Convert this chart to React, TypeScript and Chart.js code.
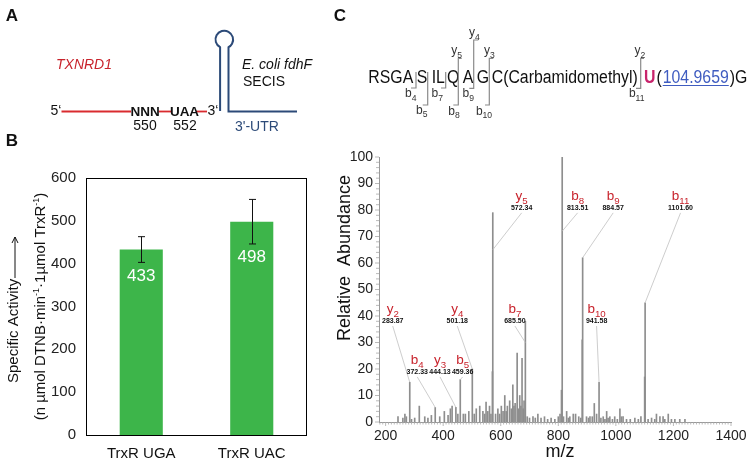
import React, { useEffect, useRef } from 'react';
import { Chart, registerables } from 'chart.js';

Chart.register(...registerables);

const FONT = '"Liberation Sans", Arial, Helvetica, sans-serif';

// ---------- Panel B data ----------
const ACTIVITY_CATEGORIES = ['TrxR UGA', 'TrxR UAC'];
const ACTIVITY_VALUES = [433, 498];
const ACTIVITY_ERRORS = [30, 52];
const ACTIVITY_TICKS = [0, 100, 200, 300, 400, 500, 600];

// ---------- Panel C spectrum data ----------
const PEAK_MZ = [
  243, 260, 267, 272, 283.87, 290, 301, 317, 336, 347, 359, 372.33, 388, 404, 417, 425, 431, 444.13, 451,
  459.36, 470, 477, 489, 501.18, 508, 515, 527, 538, 544, 549, 555, 561, 566, 571, 572.34, 582, 590, 596,
  602, 608, 614, 619, 623, 631, 637, 642, 646, 650, 657, 662, 666, 670, 674, 678, 681, 685.5, 692, 700,
  712, 720, 729, 740, 752, 763, 775, 788, 800, 806, 811, 813.51, 818, 829, 835, 840, 852, 860, 871, 878,
  883, 884.57, 898, 905, 910, 918, 925, 933, 941.58, 948, 956, 962, 968, 973, 979, 988, 996, 1005, 1014,
  1019, 1025, 1037, 1050, 1066, 1078, 1087, 1100, 1101.6, 1112, 1124, 1135, 1141, 1153, 1164, 1170, 1182,
  1193, 1205, 1222, 1240,
];
const PEAK_INTENSITY = [
  2, 1.5, 3, 2, 15, 1, 1.5, 6, 2, 1.5, 2.5, 5.5, 2, 4, 2.5, 5, 6, 5.5, 3,
  16, 3, 3, 4, 20, 3, 5, 6, 4, 3, 7.5, 4, 6, 3, 19, 79, 3, 5, 3,
  6, 4, 10, 4, 6, 8, 5, 14, 6, 7, 26, 5, 10, 6, 24, 5, 8, 38, 2, 1.5,
  2, 1.5, 3, 1.5, 2, 1, 1.5, 1, 2, 3, 12, 100, 2, 4, 1.5, 2, 3, 3, 2, 1.5,
  31, 62, 2, 1.5, 2, 2, 7, 3, 15, 1.5, 2, 1, 4, 1.5, 2, 1, 2, 1, 5,
  2, 2, 1, 1, 1.5, 1, 2, 17, 45, 1, 1.5, 1, 3, 2, 2, 1, 3,
  1, 1, 1, 1,
];
const MZ_TICKS = [200, 400, 600, 800, 1000, 1200, 1400];
const ABUNDANCE_TICKS = [0, 10, 20, 30, 40, 50, 60, 70, 80, 90, 100];

// annotated fragment ions
const ION_TYPES = ['y', 'b', 'y', 'b', 'y', 'b', 'y', 'b', 'b', 'b', 'b'];
const ION_NUMBERS = ['2', '4', '3', '5', '4', '7', '5', '8', '9', '10', '11'];
const ION_MZ = [283.87, 372.33, 444.13, 459.36, 501.18, 685.5, 572.34, 813.51, 884.57, 941.58, 1101.6];
const ION_MZ_TEXT = ['283.87', '372.33', '444.13', '459.36', '501.18', '685.50', '572.34', '813.51', '884.57', '941.58', '1101.60'];
// label anchors (data units) and where each connector meets its peak
const ION_LABEL_MZ = [224.7, 310, 389, 467.7, 449, 649.3, 672.6, 867, 990.6, 933, 1224.7];
const ION_LABEL_INTENSITY = [38.1, 18.9, 18.9, 18.9, 38.1, 38.1, 80.8, 80.8, 80.8, 38.1, 80.8];
const ION_HIT_INTENSITY = [15, 5.5, 5.5, 16, 20, 30, 65, 72, 62, 15, 45];

// peptide
const PEPTIDE_PARTS = ['RSGA', 'S', 'IL', 'Q', 'A', 'G', 'C(Carbamidomethyl)'];
const SEC_RESIDUE = 'U';
const SEC_MASS = '104.9659';

const RED = '#c8232c';
const BLUE = '#2c4a78';

function text(ctx: CanvasRenderingContext2D, s: string, x: number, y: number, font: string, color: string,
  align: CanvasTextAlign = 'left', baseline: CanvasTextBaseline = 'middle', sx = 1) {
  ctx.save();
  ctx.font = font;
  ctx.fillStyle = color;
  ctx.textAlign = align;
  ctx.textBaseline = baseline;
  ctx.translate(x, y);
  ctx.scale(sx, 1);
  ctx.fillText(s, 0, 0);
  ctx.restore();
}

function line(ctx: CanvasRenderingContext2D, pts: number[][], color: string, w: number) {
  ctx.save();
  ctx.strokeStyle = color;
  ctx.lineWidth = w;
  ctx.beginPath();
  pts.forEach((p, i) => (i ? ctx.lineTo(p[0], p[1]) : ctx.moveTo(p[0], p[1])));
  ctx.stroke();
  ctx.restore();
}

function subLabel(ctx: CanvasRenderingContext2D, main: string, sub: string, cx: number, cy: number, size: number, color: string) {
  const mf = `${size}px ${FONT}`;
  const sf = `${(size * 0.72).toFixed(1)}px ${FONT}`;
  ctx.save();
  ctx.font = mf;
  const w1 = ctx.measureText(main).width;
  ctx.font = sf;
  const w2 = ctx.measureText(sub).width;
  const x0 = cx - (w1 + w2) / 2;
  ctx.fillStyle = color;
  ctx.textAlign = 'left';
  ctx.textBaseline = 'alphabetic';
  ctx.font = mf;
  ctx.fillText(main, x0, cy + size * 0.35);
  ctx.font = sf;
  ctx.fillText(sub, x0 + w1, cy + size * 0.35 + size * 0.3);
  ctx.restore();
}

// ---------- Panel A + B decorations ----------
const leftPlugin = {
  id: 'leftDeco',
  afterDraw(chart: any) {
    const ctx: CanvasRenderingContext2D = chart.ctx;
    const xs = chart.scales.x;
    const ys = chart.scales.y;
    const a = chart.chartArea;

    // panel letters
    text(ctx, 'A', 12, 16, `bold 17px ${FONT}`, '#111', 'center');
    text(ctx, 'B', 12, 141, `bold 17px ${FONT}`, '#111', 'center');

    // ---- Panel A schematic ----
    text(ctx, 'TXNRD1', 84, 65, `italic 14px ${FONT}`, RED, 'center');
    text(ctx, '5\u2018', 56, 111, `14px ${FONT}`, '#111', 'center');
    line(ctx, [[61.5, 111.5], [131, 111.5]], '#d92b2f', 1.8);
    line(ctx, [[158.5, 111.5], [171, 111.5]], '#d92b2f', 1.8);
    line(ctx, [[196, 111.5], [207, 111.5]], '#d92b2f', 1.8);
    text(ctx, 'NNN', 145.2, 112, `bold 13.5px ${FONT}`, '#111', 'center');
    text(ctx, 'UAA', 184.5, 112, `bold 13.5px ${FONT}`, '#111', 'center');
    text(ctx, '3\u2018', 213, 111, `14px ${FONT}`, '#111', 'center');
    text(ctx, '550', 145, 126, `14px ${FONT}`, '#111', 'center');
    text(ctx, '552', 185, 126, `14px ${FONT}`, '#111', 'center');
    // hairpin
    const cx = 224.3, cy = 39.5, r = 8.8;
    const dx = 4.2, dy = Math.sqrt(r * r - dx * dx);
    ctx.save();
    ctx.strokeStyle = BLUE;
    ctx.lineWidth = 2;
    ctx.beginPath();
    ctx.moveTo(cx - dx, 111);
    ctx.lineTo(cx - dx, cy + dy);
    ctx.arc(cx, cy, r, Math.atan2(dy, -dx), Math.atan2(dy, dx), false);
    ctx.lineTo(cx + dx, 111.5);
    ctx.lineTo(297, 111.5);
    ctx.stroke();
    ctx.restore();
    text(ctx, 'E. coli fdhF', 242, 65, `italic 14px ${FONT}`, '#111', 'left');
    text(ctx, 'SECIS', 243, 82, `14px ${FONT}`, '#111', 'left');
    text(ctx, "3'-UTR", 235, 127, `14px ${FONT}`, BLUE, 'left');

    // ---- Panel B ----
    ctx.save();
    ctx.strokeStyle = '#000';
    ctx.lineWidth = 1;
    ctx.strokeRect(Math.round(a.left) + 0.5, Math.round(a.top) + 0.5, Math.round(a.right - a.left) - 1, Math.round(a.bottom - a.top));
    ctx.restore();

    // error bars + values
    ACTIVITY_VALUES.forEach((v, i) => {
      const x = xs.getPixelForValue(i);
      const yt = ys.getPixelForValue(v + ACTIVITY_ERRORS[i]);
      const yb = ys.getPixelForValue(v - ACTIVITY_ERRORS[i]);
      const xr = Math.round(x) + 0.5;
      line(ctx, [[xr, yt], [xr, yb]], '#111', 1);
      line(ctx, [[xr - 3.5, yt], [xr + 3.5, yt]], '#111', 1);
      line(ctx, [[xr - 3.5, yb], [xr + 3.5, yb]], '#111', 1);
      text(ctx, String(v), x, yb + 13.5, `17px ${FONT}`, '#fff', 'center');
    });

    // y title
    ctx.save();
    ctx.translate(13.5, 383);
    ctx.rotate(-Math.PI / 2);
    ctx.font = `15px ${FONT}`;
    ctx.fillStyle = '#111';
    ctx.textAlign = 'left';
    ctx.textBaseline = 'middle';
    ctx.fillText('Specific Activity', 0, 0);
    ctx.strokeStyle = '#111';
    ctx.lineWidth = 1;
    ctx.beginPath();
    ctx.moveTo(105, 1.5);
    ctx.lineTo(146, 1.5);
    ctx.moveTo(140, -1.5);
    ctx.lineTo(146, 1.5);
    ctx.lineTo(140, 4.5);
    ctx.stroke();
    ctx.restore();

    const parts: [string, boolean][] = [
      ['(n \u00b5mol DTNB\u00b7min', false], ['-1', true], ['\u00b71\u00b5mol TrxR', false], ['-1', true], [')', false],
    ];
    ctx.save();
    ctx.translate(40.5, 306.5);
    ctx.rotate(-Math.PI / 2);
    ctx.fillStyle = '#111';
    ctx.textBaseline = 'middle';
    ctx.textAlign = 'left';
    let total = 0;
    const widths = parts.map(([s, sup]) => {
      ctx.font = sup ? `9px ${FONT}` : `15px ${FONT}`;
      const w = ctx.measureText(s).width;
      total += w;
      return w;
    });
    let px = -total / 2;
    parts.forEach(([s, sup], i) => {
      ctx.font = sup ? `9px ${FONT}` : `15px ${FONT}`;
      ctx.fillText(s, px, sup ? -4 : 0);
      px += widths[i];
    });
    ctx.restore();
  },
};

// ---------- Panel C decorations ----------
const OX = 330;
const specPlugin = {
  id: 'specDeco',
  afterDraw(chart: any) {
    const ctx: CanvasRenderingContext2D = chart.ctx;
    const xs = chart.scales.x;
    const ys = chart.scales.y;
    const a = chart.chartArea;
    const P = (x: number) => x - OX;

    text(ctx, 'C', P(340), 16, `bold 17px ${FONT}`, '#111', 'center');

    // minor ticks
    ctx.save();
    ctx.strokeStyle = '#a8a8a8';
    ctx.lineWidth = 0.8;
    ctx.beginPath();
    for (let v = 0; v <= 100; v += 2) {
      const y = ys.getPixelForValue(v);
      ctx.moveTo(a.left, y);
      ctx.lineTo(a.left - (v % 10 === 0 ? 4 : 3), y);
    }
    for (let v = 180; v <= 1400; v += 10) {
      const x = xs.getPixelForValue(v);
      ctx.moveTo(x, a.bottom);
      ctx.lineTo(x, a.bottom + (v % 200 === 0 ? 4 : 2.5));
    }
    ctx.stroke();
    ctx.restore();

    // axis titles
    ctx.save();
    ctx.translate(P(345), 258);
    ctx.rotate(-Math.PI / 2);
    ctx.font = `18px ${FONT}`;
    ctx.fillStyle = '#111';
    ctx.textAlign = 'center';
    ctx.textBaseline = 'middle';
    ctx.fillText('Relative  Abundance', 0, 0);
    ctx.restore();
    text(ctx, 'm/z', P(560), 452, `18px ${FONT}`, '#111', 'center');

    // ion annotations
    ION_MZ.forEach((mz, i) => {
      const nx = xs.getPixelForValue(ION_LABEL_MZ[i]);
      const ny = ys.getPixelForValue(ION_LABEL_INTENSITY[i]);
      const hx = xs.getPixelForValue(mz);
      const hy = ys.getPixelForValue(ION_HIT_INTENSITY[i]);
      line(ctx, [[nx, ny + 5], [hx, hy]], '#c0c0c0', 0.8);
      subLabel(ctx, ION_TYPES[i], ION_NUMBERS[i], nx, ny - 13, 13.5, RED);
      text(ctx, ION_MZ_TEXT[i], nx, ny, `bold 7px ${FONT}`, '#111', 'center');
    });

    // peptide sequence
    const pf = `18px ${FONT}`;
    const sx = 0.88;
    const base = 83;
    const lefts = [368.3, 416.7, 431.7, 447, 462.7, 476.7, 491.7];
    PEPTIDE_PARTS.forEach((s, i) => text(ctx, s, P(lefts[i]), base, pf, '#111', 'left', 'alphabetic', sx));
    ctx.save();
    let x = P(644);
    text(ctx, SEC_RESIDUE, x, base, `bold 18px ${FONT}`, '#c8246c', 'left', 'alphabetic', sx);
    ctx.font = `bold 18px ${FONT}`;
    x += ctx.measureText(SEC_RESIDUE).width * sx + 1;
    text(ctx, '(', x, base, pf, '#111', 'left', 'alphabetic', sx);
    ctx.font = pf;
    x += ctx.measureText('(').width * sx + 1;
    text(ctx, SEC_MASS, x, base, pf, '#3f5cc0', 'left', 'alphabetic', sx);
    const wm = ctx.measureText(SEC_MASS).width * sx;
    line(ctx, [[x, base + 2.5], [x + wm, base + 2.5]], '#3f5cc0', 1);
    x += wm + 1;
    text(ctx, ')G', x, base, pf, '#111', 'left', 'alphabetic', sx);
    ctx.restore();

    // fragmentation brackets
    const G = '#8a8a8a';
    const bx = (v: number) => P(v);
    line(ctx, [[bx(416), 72], [bx(416), 88], [bx(411), 88]], G, 1.2);
    line(ctx, [[bx(427.7), 72], [bx(427.7), 105], [bx(422.7), 105]], G, 1.2);
    line(ctx, [[bx(445.7), 72], [bx(445.7), 88], [bx(441), 88]], G, 1.2);
    line(ctx, [[bx(461.7), 58.3], [bx(458.3), 58.3], [bx(458.3), 105], [bx(453.3), 105]], G, 1.2);
    line(ctx, [[bx(478.3), 40], [bx(473.7), 40], [bx(473.7), 88.3], [bx(469.3), 88.3]], G, 1.2);
    line(ctx, [[bx(493.3), 58.3], [bx(489.3), 58.3], [bx(489.3), 105], [bx(485), 105]], G, 1.2);
    line(ctx, [[bx(644), 58.3], [bx(640.7), 58.3], [bx(640.7), 88.3], [bx(636), 88.3]], G, 1.2);
    const LC = '#333';
    subLabel(ctx, 'b', '4', bx(410.7), 93, 12, LC);
    subLabel(ctx, 'b', '5', bx(421.7), 109.5, 12, LC);
    subLabel(ctx, 'b', '7', bx(437.3), 93, 12, LC);
    subLabel(ctx, 'b', '8', bx(454), 110.5, 12, LC);
    subLabel(ctx, 'b', '9', bx(468.3), 93, 12, LC);
    subLabel(ctx, 'b', '10', bx(484), 110.5, 12, LC);
    subLabel(ctx, 'b', '11', bx(636.7), 93, 12, LC);
    subLabel(ctx, 'y', '5', bx(456.7), 50, 12, LC);
    subLabel(ctx, 'y', '4', bx(474.3), 32, 12, LC);
    subLabel(ctx, 'y', '3', bx(489.3), 50, 12, LC);
    subLabel(ctx, 'y', '2', bx(640), 50, 12, LC);
  },
};

export default function App() {
  const leftRef = useRef<HTMLCanvasElement>(null);
  const specRef = useRef<HTMLCanvasElement>(null);

  useEffect(() => {
    const c1 = new Chart(leftRef.current as HTMLCanvasElement, {
      type: 'bar',
      data: {
        labels: ACTIVITY_CATEGORIES,
        datasets: [{
          data: ACTIVITY_VALUES,
          backgroundColor: '#3db54a',
          barPercentage: 0.39,
          categoryPercentage: 1,
        }],
      },
      options: {
        responsive: false,
        animation: false,
        events: [],
        layout: { padding: { top: 178, right: 23, left: 0, bottom: 0 } },
        plugins: { legend: { display: false }, tooltip: { enabled: false } },
        scales: {
          x: {
            grid: { display: false, drawTicks: false },
            border: { display: false },
            ticks: { font: { family: FONT, size: 15 }, color: '#111', padding: 10, maxRotation: 0 },
            afterFit: (s: any) => { s.height = 29; },
          },
          y: {
            min: 0,
            max: 600,
            grid: { display: false, drawTicks: false },
            border: { display: false },
            afterBuildTicks: (s: any) => { s.ticks = ACTIVITY_TICKS.map((v) => ({ value: v })); },
            ticks: { font: { family: FONT, size: 15 }, color: '#222', padding: 10, callback: (v: any) => String(v) },
            afterFit: (s: any) => { s.width = 86; },
          },
        },
      } as any,
      plugins: [leftPlugin],
    });

    const c2 = new Chart(specRef.current as HTMLCanvasElement, {
      type: 'bar',
      data: {
        datasets: [{
          data: PEAK_MZ.map((m, i) => ({ x: m, y: PEAK_INTENSITY[i] })),
          backgroundColor: '#8e8e8e',
          barThickness: 1,
          borderWidth: 0,
        }],
      },
      options: {
        responsive: false,
        animation: false,
        events: [],
        layout: { padding: { top: 157, right: 25, left: 0, bottom: 0 } },
        plugins: { legend: { display: false }, tooltip: { enabled: false } },
        scales: {
          x: {
            type: 'linear',
            min: 177,
            max: 1400,
            offset: false,
            grid: { display: false, drawTicks: false, offset: false },
            border: { color: '#9a9a9a', width: 1 },
            afterBuildTicks: (s: any) => { s.ticks = MZ_TICKS.map((v) => ({ value: v })); },
            ticks: { font: { family: FONT, size: 14 }, color: '#222', padding: 6, maxRotation: 0, autoSkip: false, callback: (v: any) => String(v) },
            afterFit: (s: any) => { s.height = 42; },
          },
          y: {
            min: 0,
            max: 100,
            grid: { display: false, drawTicks: false },
            border: { color: '#9a9a9a', width: 1 },
            afterBuildTicks: (s: any) => { s.ticks = ABUNDANCE_TICKS.map((v) => ({ value: v })); },
            ticks: { font: { family: FONT, size: 14 }, color: '#222', padding: 6, autoSkip: false, callback: (v: any) => String(v) },
            afterFit: (s: any) => { s.width = 49; },
          },
        },
      } as any,
      plugins: [specPlugin],
    });

    return () => {
      c1.destroy();
      c2.destroy();
    };
  }, []);

  return (
    <div style={{ position: 'fixed', left: 0, top: 0, width: 756, height: 464, background: '#fff' }}>
      <canvas ref={leftRef} width={330} height={464} style={{ position: 'absolute', left: 0, top: 0 }} />
      <canvas ref={specRef} width={426} height={464} style={{ position: 'absolute', left: 330, top: 0 }} />
    </div>
  );
}
